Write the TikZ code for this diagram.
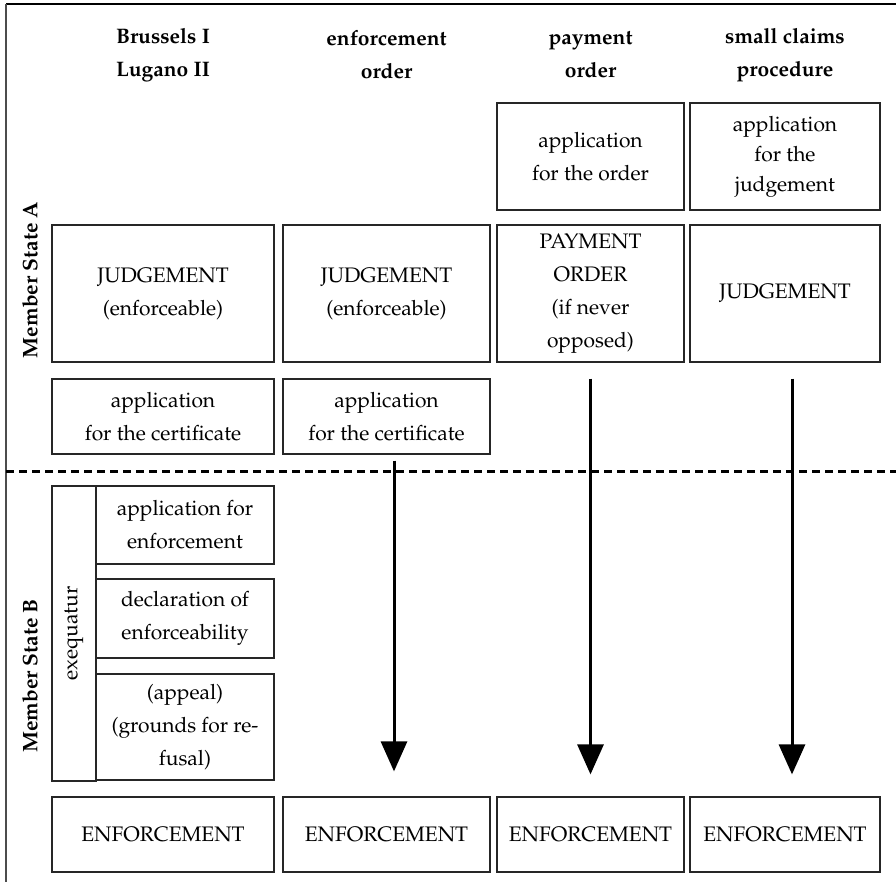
\documentclass[tikz,border=0pt]{standalone}
\usepackage[T1]{fontenc}
\usepackage{mathpazo}
\usetikzlibrary{arrows.meta, positioning}

\newcommand{\txt}{\fontsize{10.5}{16.5}\selectfont}
\tikzset{
  cell/.style={draw=black!85, line width=0.6pt, align=center, inner sep=1pt},
  colA/.style={cell, minimum width=111pt},
  colB/.style={cell, minimum width=103.5pt},
  colC/.style={cell, minimum width=93.5pt},
  colD/.style={cell, minimum width=95pt},
  sub/.style={cell, minimum width=89pt},
  head/.style={align=center, font=\txt\bfseries},
  flow/.style={line width=1.5pt, -{Triangle[width=13pt,length=15pt]}}
}

\begin{document}
\begin{tikzpicture}[x=0.5pt, y=-0.5pt, font=\txt]
      \useasboundingbox (0,0) rectangle (896,882);
      % frame and border between the two states
      \draw[line width=1pt] (6,4) -- (896,4);
      \draw[line width=1pt, black!70] (6,4) -- (6,882);
      \draw[line width=1.5pt, dash pattern=on 4pt off 2.5pt] (6,472) -- (896,472);

      \node[rotate=90, font=\txt\bfseries] (stA) at (30,280) {Member State A};
      \node[rotate=90, font=\txt\bfseries] (stB) at (30,676) {Member State B};

      % column heads
      \node[head] (h1) at (163,55) {Brussels I\\Lugano II};
      \node[head] (h2) at (386.5,55) {enforcement\\order};
      \node[head] (h3) at (590.5,55) {payment\\order};
      \node[head] (h4) at (785,55) {small claims\\procedure};

      % member state A
      \node[colC, minimum height=53.5pt] (appPO) at (590.5,156.5) {application\\for the order};
      \node[colD, minimum height=53.5pt, font=\fontsize{10.5}{15}\selectfont] (appSC) at (785,156.5) {application\\for the\\judgement};
      \node[colA, minimum height=68.5pt] (jdg1) at (163,293.5) {JUDGEMENT\\(enforceable)};
      \node[colB, minimum height=68.5pt] (jdg2) at (386.5,293.5) {JUDGEMENT\\(enforceable)};
      \node[colC, minimum height=68.5pt] (po) at (590.5,293.5) {PAYMENT\\ORDER\\(if never\\opposed)};
      \node[colD, minimum height=68.5pt] (jdg4) at (785,293.5) {JUDGEMENT};
      \node[colA, minimum height=37.5pt] (cert1) at (163,416.5) {application\\for the certificate};
      \node[colB, minimum height=37.5pt] (cert2) at (386.5,416.5) {application\\for the certificate};

      % member state B
      \node[cell, rotate=90, minimum width=147.5pt, minimum height=22pt] (exq) at (74,633.5) {exequatur};
      \node[sub, minimum height=39pt] (appEnf) at (185,525) {application for\\enforcement};
      \node[sub, minimum height=39.5pt] (decl) at (185,618.5) {declaration of\\enforceability};
      \node[sub, minimum height=53pt] (appeal) at (185,727) {(appeal)\\(grounds for re-\\fusal)};

      \node[colA, minimum height=37.5pt] (enf1) at (163,834.5) {ENFORCEMENT};
      \node[colB, minimum height=37.5pt] (enf2) at (386.5,834.5) {ENFORCEMENT};
      \node[colC, minimum height=37.5pt] (enf3) at (590.5,834.5) {ENFORCEMENT};
      \node[colD, minimum height=37.5pt] (enf4) at (785,834.5) {ENFORCEMENT};

      \draw[flow, shorten <=3pt, shorten >=12.5pt] ([xshift=3.75pt]cert2.south) -- ([xshift=3.75pt]enf2.north);
      \draw[flow, shorten <=8pt, shorten >=11pt] (po.south) -- (enf3.north);
      \draw[flow, shorten <=8pt, shorten >=11pt] ([xshift=3.5pt]jdg4.south) -- ([xshift=3.5pt]enf4.north);
    \end{tikzpicture}
\end{document}
